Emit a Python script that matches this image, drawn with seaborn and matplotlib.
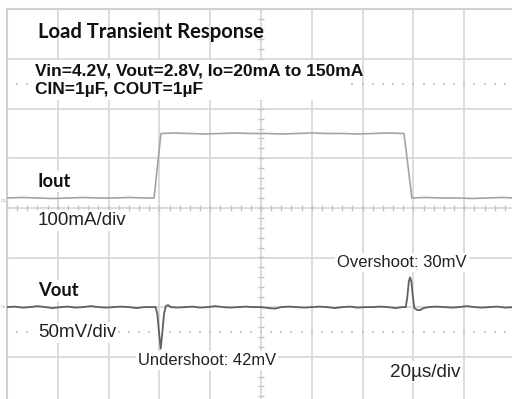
import numpy as np
import pandas as pd
import matplotlib
matplotlib.use("Agg")
import matplotlib.pyplot as plt
from matplotlib.patches import Rectangle
import seaborn as sns

# ---- Trace data (time in microseconds) ----
iout_t = [0, 6, 12, 18, 24, 30, 36, 42, 48, 54, 57.9, 60.6, 66, 72, 78, 84, 90, 96,
          102, 108, 114, 120, 126, 132, 138, 144, 150, 156.3, 159.4, 165, 171, 177,
          183, 189, 195, 200]
iout_mA = [20, 21, 20, 19, 20, 21, 20, 20, 21, 20, 20, 150, 151, 150, 149, 150, 151, 150,
           150, 149, 150, 151, 150, 150, 149, 150, 151, 150, 20, 21, 20, 20, 19, 20, 21, 20]

vout_t = [0, 3, 6, 9, 12, 15, 18, 21, 24, 27, 30, 33, 36, 39, 42, 45, 48, 51, 54, 57,
          58.5, 59.2, 59.9, 60.5, 61.1, 61.8, 62.5, 63.4, 64.5, 67, 70, 73, 76, 79, 82,
          85, 88, 91, 94, 97, 100, 103, 105.5, 108, 111, 114, 117, 120, 123, 126, 129,
          132, 135, 138, 141, 144, 147, 150, 153, 155.5, 157.0, 157.6, 158.2, 158.7,
          159.2, 159.8, 160.4, 161.5, 162.6, 164, 166, 169, 172, 175, 178, 181, 184,
          187, 190, 193, 196, 200]
vout_mV = [0, 0.5, -0.5, 0, 1, 0, -1, 0, 0.5, -0.5, 0, 1, 0, -0.5, 0, 0.5, 0, -1, 0, 0,
           0, -7, -27, -42, -27, -7, 1, 2, 0, -0.5, 0, 0.5, -0.5, 0, 1,
           0, -0.5, 0, 0.5, 0, 0, -1, -1.5, 0, 0.5, 0, -0.5, 0, 0.5, 0, -1,
           0, 0.5, -0.5, 0, 0, 0.5, 0, -1, 0, 0, 10, 26, 30,
           26, 10, -1, -3, -3, -1, 0, 0.5, 0, -0.5, 0, 1, 0,
           -0.5, 0, 0.5, -0.5, 0]

IOUT_PER_DIV = 100.0   # mA/div
VOUT_PER_DIV = 50.0    # mV/div
VOUT_OFFSET = -2.0     # divisions

iout_df = pd.DataFrame({"t": iout_t, "div": np.array(iout_mA) / IOUT_PER_DIV})
vout_df = pd.DataFrame({"t": vout_t, "div": np.array(vout_mV) / VOUT_PER_DIV + VOUT_OFFSET})

sns.set_theme(style="white")
plt.rcParams["font.family"] = ["Liberation Sans", "DejaVu Sans"]

fig = plt.figure(figsize=(5.12, 3.99), dpi=100)
W, H = 512.0, 399.0
left_px, top_px, xdiv_px, ydiv_px = 7.0, 9.5, 50.8, 49.6
ax = fig.add_axes([left_px / W, (H - (top_px + 8 * ydiv_px)) / H,
                   10 * xdiv_px / W, 8 * ydiv_px / H])
ax.set_xlim(0, 200)
ax.set_ylim(-4, 4)

# graticule
grid_c = "#d9d9d9"
ax.set_xticks(np.arange(0, 201, 20))
ax.set_yticks(np.arange(-4, 5, 1))
ax.grid(True, color=grid_c, lw=1.3, zorder=0)
ax.tick_params(length=0, labelbottom=False, labelleft=False)
for side in ["right", "bottom"]:
    ax.spines[side].set_visible(False)
for side in ["left", "top"]:
    ax.spines[side].set_color("#cfcfcf")
    ax.spines[side].set_linewidth(1.5)

tick_c = "#c4c4c4"
minor_x = np.arange(0, 201, 4)
minor_y = np.arange(-4, 4.01, 0.2)
ax.vlines(minor_x, -0.065, 0.065, color=tick_c, lw=1.0, zorder=1)
ax.hlines(minor_y, 100 - 1.2, 100 + 1.2, color=tick_c, lw=1.0, zorder=1)
for yd in (2.5, -2.5):
    ax.scatter(minor_x, np.full_like(minor_x, yd, dtype=float), s=1.2,
               color="#c8c8c8", marker="s", linewidths=0, zorder=1)

# traces
sns.lineplot(data=iout_df, x="t", y="div", ax=ax, color="#a4a4a4", lw=1.2,
             estimator=None, sort=False, zorder=3)
sns.lineplot(data=vout_df, x="t", y="div", ax=ax, color="#606060", lw=1.3,
             estimator=None, sort=False, zorder=3)
ax.set_xlabel("")
ax.set_ylabel("")

box = dict(facecolor="white", edgecolor="none", pad=1.5)
bold_font = ["Lato", "DejaVu Sans"]

# white panel behind the test-condition lines
ax.add_patch(Rectangle((10.3, 2.18), 125.2, 0.8, facecolor="white",
                       edgecolor="none", zorder=2))

ax.text(12.2, 3.43, "Load Transient Response", fontsize=14.6, fontweight="bold",
        family=bold_font, color="#111111", va="baseline", ha="left", zorder=4)
ax.text(11.0, 2.66, "Vin=4.2V, Vout=2.8V, Io=20mA to 150mA", fontsize=12.5,
        fontweight="bold", color="#111111", va="baseline", ha="left", zorder=4)
ax.text(11.0, 2.29, "CIN=1µF, COUT=1µF", fontsize=12.5,
        fontweight="bold", color="#111111", va="baseline", ha="left", zorder=4)

ax.text(12.2, 0.43, "Iout", fontsize=13.2, fontweight="bold", family=bold_font,
        color="#111111", va="baseline", ha="left", bbox=box, zorder=4)
ax.text(12.2, -0.345, "100mA/div", fontsize=13.5, color="#222222",
        va="baseline", ha="left", bbox=box, zorder=4)
ax.text(12.2, -1.77, "Vout", fontsize=13.2, fontweight="bold", family=bold_font,
        color="#111111", va="baseline", ha="left", bbox=box, zorder=4)
ax.text(12.2, -2.61, "50mV/div", fontsize=13.5, color="#222222",
        va="baseline", ha="left", bbox=box, zorder=4)
ax.text(51.6, -3.17, "Undershoot: 42mV", fontsize=11.9, color="#222222",
        va="baseline", ha="left", bbox=box, zorder=4)
ax.text(129.9, -1.185, "Overshoot: 30mV", fontsize=12, color="#222222",
        va="baseline", ha="left", bbox=box, zorder=4)
ax.text(150.8, -3.40, "20µs/div", fontsize=13.6, color="#222222",
        va="baseline", ha="left", bbox=box, zorder=4)

# channel markers at the left edge
ax.text(-2.6, 0.14, "C1", fontsize=3, color="#999999", va="center", ha="left",
        clip_on=False)
ax.text(-2.6, -2.0, "C2", fontsize=3, color="#999999", va="center", ha="left",
        clip_on=False)

fig.savefig("out.png", dpi=100)
